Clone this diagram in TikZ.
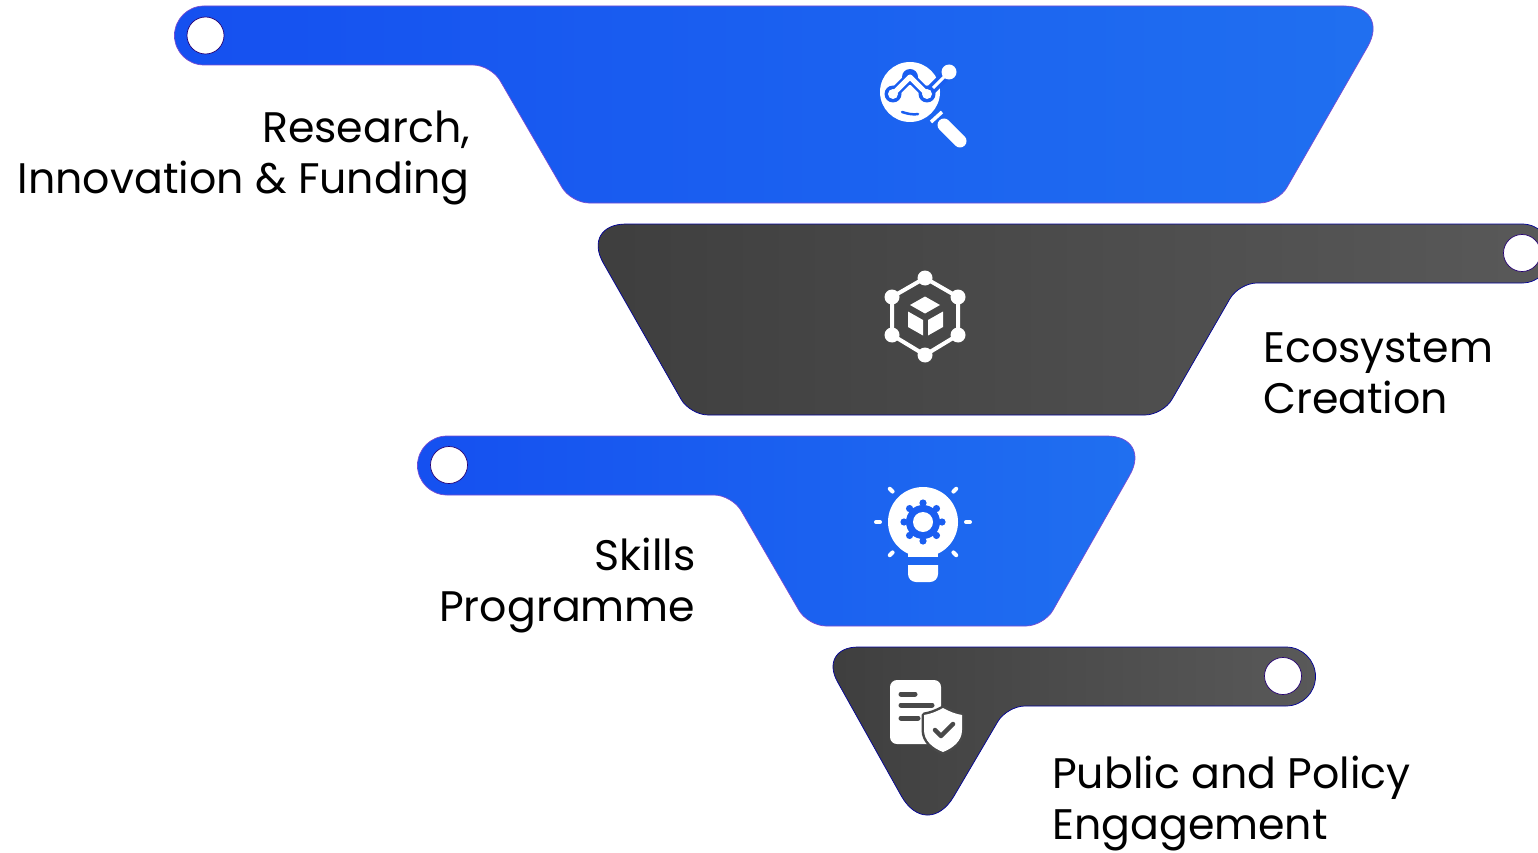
\documentclass[tikz,border=0pt]{standalone}
\usepackage{fontspec}
\setmainfont{Poppins}
\usetikzlibrary{calc}
\definecolor{blueL}{HTML}{1550F0}
\definecolor{blueR}{HTML}{2070F0}
\definecolor{blueM}{HTML}{1A5EF1}
\definecolor{greyL}{HTML}{3E3E3E}
\definecolor{greyR}{HTML}{595959}
\definecolor{greyM}{HTML}{494949}
\newcommand{\Tab}{29.5}
\tikzset{
    BlueBand/.style={left color=blueL, right color=blueR, draw=blue!50!violet!70!white, line width=0.7pt},
    GreyBand/.style={left color=greyL, right color=greyR, draw=blue!60!black, line width=0.7pt},
    Hole/.style={circle, inner sep=0pt, minimum size=37pt, fill=white, draw=blue!50!violet!60!black, line width=0.7pt},
    Label/.style={inner sep=0pt, font=\fontsize{42.7}{51}\selectfont},
    ink/.style={fill=white, draw=none},
    stroke/.style={draw=white, line cap=round, line join=round},
}
\begin{document}
\begin{tikzpicture}[x=1pt,y=-1pt]
\useasboundingbox (0,0) rectangle (1538,853);
\clip (0,0) rectangle (1538,853);
% bands
\shade[BlueBand] (204,6) [rounded corners=47pt] -- (1391,6) [rounded corners=18pt] -- (1278,203) -- (571,203) -- (491,65) [sharp corners] -- (204,65)
    arc[start angle=90,end angle=270,radius=\Tab] -- cycle;
\shade[GreyBand] (1522,224) [rounded corners=45pt] -- (581,224) [rounded corners=18pt] -- (690,415) -- (1163,415) -- (1239,283) [sharp corners] -- (1522,283)
    arc[start angle=90,end angle=-90,radius=\Tab] -- cycle;
\shade[BlueBand] (447,436) [rounded corners=45pt] -- (1152,436) [rounded corners=18pt] -- (1044,626) -- (808,626) -- (732,495) [sharp corners] -- (447,495)
    arc[start angle=90,end angle=270,radius=\Tab] -- cycle;
\shade[GreyBand] (1286,647) [rounded corners=40pt] -- (818,647) [rounded corners=53pt] -- (927,842) [rounded corners=18pt] -- (1007,706) [sharp corners] -- (1286,706)
    arc[start angle=90,end angle=-90,radius=\Tab] -- cycle;
% holes
\node[Hole] (holeResearch) at (205.5,35.5) {};
\node[Hole] (holeEcosystem) at (1522,253) {};
\node[Hole] (holeSkills) at (449,465) {};
\node[Hole] (holePublic) at (1283,676) {};
% magnifier
\fill[ink] (910,92) circle (30);
\draw[blueM, line width=10pt, line join=round] (893,94) -- (910,77) -- (927,94) -- (949,72);
\draw[stroke, line width=3pt] (927,94) -- (949,72);
\fill[ink] (949,72) circle (7.5);
\foreach \x/\y in {893/94,927/94} {
    \fill[blueM] (\x,\y) circle (8.5);
}
\fill[blueM] (910,77) circle (8);
\draw[stroke, line width=5pt] (893,94) -- (910,77) -- (927,94);
\foreach \x/\y in {893/94,927/94} {
    \fill[ink] (\x,\y) circle (5);
}
\draw[blueM, line width=2.5pt, line cap=round] (902,112) .. controls (908,114) and (914,115) .. (918,114);
\draw[white, line width=3.5pt] (931,122) -- (942,112);
\draw[stroke, line width=13pt] (944,125) -- (960,141);
% cube in hexagon
\draw[stroke, line width=4pt] (925,278) -- (958,297) -- (958,335) -- (925,355) -- (892,335) -- (892,297) -- cycle;
\foreach \x/\y in {925/278,958/297,958/335,925/355,892/335,892/297} {
    \fill[ink] (\x,\y) circle (7.5);
}
\fill[ink] (925,296.5) -- (940,305) -- (925,313.5) -- (910,305) -- cycle;
\fill[ink] (908,311.5) -- (923,320) -- (923,335.5) -- (908,327) -- cycle;
\fill[ink] (943,311.5) -- (928,320) -- (928,335.5) -- (943,327) -- cycle;
% bulb
\fill[ink] (908,557) -- (908,545) -- (938,545) -- (938,557) -- cycle;
\fill[ink] (923,522) circle (35);
\fill[ink] (908,565) -- (938,565) -- (938,574) arc[start angle=0,end angle=90,radius=8] -- (916,582) arc[start angle=90,end angle=180,radius=8] -- cycle;
\foreach \a in {0,45,...,315} {
    \fill[blueM] ($(923,522)+(\a:19)$) circle (3.6);
}
\fill[blueM] (923,522) circle (17);
\fill[ink] (923,522) circle (10);
\foreach \a in {0,180,45,135,225,315} {
    \draw[stroke, line width=4pt] ($(923,522)+(\a:43)$) -- ($(923,522)+(\a:47)$);
}
% document and shield
\fill[ink, rounded corners=7pt] (890,680) -- (941,680) -- (941,744) -- (890,744) -- cycle;
\draw[greyM, line width=5pt, line cap=round] (901,694) -- (915,694);
\draw[greyM, line width=5pt, line cap=round] (901,705) -- (932,705);
\draw[greyM, line width=5pt, line cap=round] (901,718) -- (918,718);
\draw[greyM, line width=5pt, line join=round, fill=white] (943,708) .. controls (950,712) and (956,714) .. (962,715) -- (962,730) .. controls (962,741) and (953,748) .. (943,752) .. controls (933,748) and (924,741) .. (924,730) -- (924,715) .. controls (930,714) and (936,712) .. (943,708) -- cycle;
\fill[ink] (943,708) .. controls (950,712) and (956,714) .. (962,715) -- (962,730) .. controls (962,741) and (953,748) .. (943,752) .. controls (933,748) and (924,741) .. (924,730) -- (924,715) .. controls (930,714) and (936,712) .. (943,708) -- cycle;
\draw[greyM, line width=4.5pt, line cap=round, line join=round] (935,730) -- (941,736) -- (953,724);
% labels
\node[Label,anchor=east,align=right] (research) at (470,158) {Research,\\Innovation \& Funding};
\node[Label,anchor=west,align=left] (ecosystem) at (1263,373) {Ecosystem\\Creation};
\node[Label,anchor=east,align=right] (skills) at (695.5,586) {Skills\\Programme};
\node[Label,anchor=west,align=left] (public) at (1052,804) {Public and Policy\\Engagement};
\end{tikzpicture}
\end{document}
